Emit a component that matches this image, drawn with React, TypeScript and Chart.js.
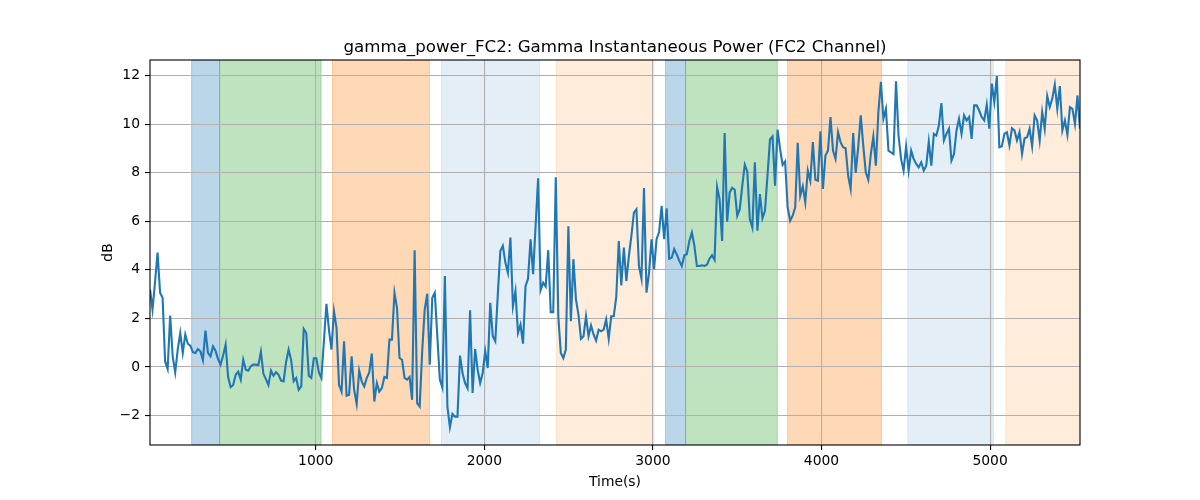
import React, { useEffect, useRef } from "react";
import { Chart, registerables } from "chart.js";

Chart.register(...registerables);

// ---- data ----
const TITLE = "gamma_power_FC2: Gamma Instantaneous Power (FC2 Channel)";
const X_LABEL = "Time(s)";
const Y_LABEL = "dB";

// uniform sampling grid of the power trace (seconds)
const SAMPLE_START = 17;
const SAMPLE_STEP = 14.95;

const gammaPowerDb = [
  3.2, 2.37, 3.5, 4.71, 3.06, 2.85, 0.23, -0.08, 2.12, 0.44,
  -0.22, 0.72, 1.4, 0.58, 1.34, 0.96, 0.88, 0.61, 0.58, 0.74,
  0.65, 0.28, 1.5, 0.58, 0.44, 0.85, 0.67, 0.33, 0.1, 0.47,
  0.92, -0.41, -0.83, -0.74, -0.32, -0.19, -0.52, 0.3, -0.11, -0.15,
  0.03, 0.1, 0.1, 0.08, 0.63, -0.28, -0.5, -0.74, -0.15, -0.36,
  -0.21, -0.32, -0.56, -0.59, 0.21, 0.72, 0.28, -0.59, -0.45, -0.94,
  -0.8, 1.57, 1.4, -0.36, -0.45, 0.36, 0.36, -0.22, -0.45, 1.06,
  2.6, 1.54, 0.72, 2.3, 1.61, -0.73,
  -1.01, 1.06, -1.18, -1.14, 0.44, -0.94, -1.52, -0.15, -0.59, -0.8,
  -0.45, -0.22, 0.55, -1.42, -0.66, -1.01, -0.87, -0.41, -0.45, 1.13,
  1.13, 3.06, 2.44, 0.37, 0.3, -0.45, -0.52, -0.41, -1.35, 4.81,
  -1.49, -1.63, 0.65, 2.37, 3.02, 0.1, 2.85, 3.06, 1.27, -0.52,
  -0.84, 3.75, -1.63, -2.48, -1.93, -2.04, -2.04, 0.47, -0.25, -0.66,
  -0.87, 2.34, -1.07, 0.74, -0.11, -0.66, -0.25, 0.65, -0.04, 2.64,
  1.27, 1.06, 2.99, 4.78, 4.99, 4.3, 3.88, 5.33, 2.51, 3.13,
  1.4,
  1.75, 0.96, 3.33, 3.64, 5.26, 3.82, 5.81, 7.77, 3.17, 3.47,
  3.31, 4.81, 2.26, 2.26, 7.81, 2.09, 0.58, 0.37, 0.72, 5.79,
  1.89, 4.44, 2.78, 2.16, 1.16, 1.27, 2.09, 1.27, 1.71, 1.34,
  1.09, 1.54, 1.47, 1.54, 1.96, 1.16, 2.09, 2.09, 2.89, 5.19,
  3.36, 4.92, 3.54, 4.57, 5.4, 6.36, 6.5, 4.16, 3.64, 7.37,
  3.06, 3.88, 5.26, 4.02, 5.26, 5.56, 6.64, 5.26, 6.53, 4.46,
  4.5, 4.85, 4.64, 4.37, 4.16, 4.6, 4.64, 5.19, 5.54, 4.99,
  4.16, 4.16,
  4.19, 4.16, 4.21, 4.46, 4.6, 4.41, 7.42, 6.91, 5.19, 9.63,
  5.98, 7.19, 7.38, 7.3, 6.23, 6.5, 7.47, 8.33, 8.04, 6.09,
  5.74, 8.43, 5.61, 7.12, 6.12, 6.43, 7.88, 9.37, 9.49, 7.47,
  9.77, 8.98, 8.32, 8.46, 6.57, 6.02, 6.23, 6.57, 9.23, 7.05,
  7.44, 6.78, 8.09, 7.67, 9.26, 7.71, 7.67, 9.7, 7.33, 8.71,
  8.91, 10.29, 8.91, 8.57, 9.67, 9.26, 9.05, 9.01, 7.88, 7.33,
  9.63, 7.99, 9.05, 10.36, 9.12, 8.02, 7.71, 8.77, 9.49, 8.29,
  10.5,
  11.74, 10.22, 10.63, 8.91, 8.84, 8.77, 11.76, 9.53, 8.57, 8.09,
  9.09, 8.09, 8.91, 8.57, 8.36, 8.22, 8.43, 8.09, 8.29, 9.28,
  8.29, 9.6, 9.53, 9.94, 10.87, 9.33, 9.6, 9.81, 8.5, 8.77,
  9.74, 10.22, 9.6, 10.36, 10.15, 10.29, 9.39, 10.77, 10.77, 10.56,
  10.29, 10.15, 10.8, 9.81, 11.67, 10.91, 11.98, 9.05, 9.09, 9.6,
  9.67, 9.12, 9.83, 9.74, 9.33, 9.67, 8.77, 9.42, 9.46, 9.81,
  9.09, 10.36, 10.15, 9.33, 10.5, 9.81, 11.16, 10.7, 11.05, 11.63,
  10.63, 11.57, 9.74, 10.15, 9.56, 10.7, 10.63, 10.01, 11.18, 9.81,
];

const X_TICKS = [1000, 2000, 3000, 4000, 5000];
const Y_TICKS = [-2, 0, 2, 4, 6, 8, 10, 12];
const Y_MIN = -3.21;
const Y_MAX = 12.64;

// shaded epochs (seconds)
const BAND_STARTS = [264, 430, 1099, 1746, 2427, 3075, 3194, 3798, 4512, 5093];
const BAND_ENDS = [430, 1032, 1675, 2328, 3006, 3194, 3738, 4356, 5020, 5560];
const BAND_COLORS = [
  "rgba(31,119,180,0.3)",
  "rgba(44,160,44,0.3)",
  "rgba(255,127,14,0.3)",
  "rgba(31,119,180,0.12)",
  "rgba(255,127,14,0.15)",
  "rgba(31,119,180,0.3)",
  "rgba(44,160,44,0.3)",
  "rgba(255,127,14,0.3)",
  "rgba(31,119,180,0.12)",
  "rgba(255,127,14,0.15)",
];

const FONT = "'DejaVu Sans', sans-serif";

export default function App() {
  const canvasRef = useRef<HTMLCanvasElement | null>(null);

  useEffect(() => {
    const canvas = canvasRef.current;
    if (!canvas) return;

    const times = gammaPowerDb.map((_, i) => SAMPLE_START + i * SAMPLE_STEP);
    const points = gammaPowerDb.map((v, i) => ({ x: times[i], y: v }));
    const xMin = times[0];
    const xMax = times[times.length - 1];

    const fmt = (v: number) => (v < 0 ? "\u2212" + Math.abs(v) : String(v));

    const bandsPlugin = {
      id: "bands",
      beforeDraw(chart: any) {
        const { ctx, chartArea } = chart;
        const xs = chart.scales.x;
        ctx.save();
        ctx.beginPath();
        ctx.rect(chartArea.left, chartArea.top, chartArea.right - chartArea.left, chartArea.bottom - chartArea.top);
        ctx.clip();
        for (let i = 0; i < BAND_STARTS.length; i++) {
          const x0 = xs.getPixelForValue(BAND_STARTS[i]);
          const x1 = xs.getPixelForValue(BAND_ENDS[i]);
          ctx.fillStyle = BAND_COLORS[i];
          ctx.fillRect(x0, chartArea.top, x1 - x0, chartArea.bottom - chartArea.top);
          ctx.strokeStyle = BAND_COLORS[i];
          ctx.lineWidth = 1;
          ctx.strokeRect(x0, chartArea.top, x1 - x0, chartArea.bottom - chartArea.top);
        }
        ctx.restore();
      },
      afterDraw(chart: any) {
        const { ctx, chartArea } = chart;
        ctx.save();
        ctx.strokeStyle = "#000";
        ctx.lineWidth = 1.1;
        ctx.strokeRect(chartArea.left, chartArea.top, chartArea.right - chartArea.left, chartArea.bottom - chartArea.top);
        ctx.fillStyle = "#000";
        const cx = (chartArea.left + chartArea.right) / 2;
        ctx.font = `16.67px ${FONT}`;
        ctx.textAlign = "center";
        ctx.textBaseline = "alphabetic";
        ctx.fillText(TITLE, cx, chartArea.top - 8.5);
        ctx.font = `13.89px ${FONT}`;
        ctx.fillText(X_LABEL, cx, 486);
        ctx.translate(112, (chartArea.top + chartArea.bottom) / 2);
        ctx.rotate(-Math.PI / 2);
        ctx.fillText(Y_LABEL, 0, 0);
        ctx.restore();
      },
    };

    const chart = new Chart(canvas, {
      type: "line",
      data: {
        datasets: [
          {
            data: points,
            borderColor: "#1f77b4",
            borderWidth: 2.1,
            pointRadius: 0,
            tension: 0,
            fill: false,
          },
        ],
      },
      options: {
        responsive: false,
        animation: false,
        devicePixelRatio: 1,
        layout: { padding: { left: 0, right: 120, top: 60, bottom: 0 } },
        plugins: {
          legend: { display: false },
          tooltip: { enabled: false },
          title: { display: false },
        },
        scales: {
          x: {
            type: "linear",
            min: xMin,
            max: xMax,
            afterBuildTicks: (s: any) => {
              s.ticks = X_TICKS.map((v) => ({ value: v }));
            },
            afterFit: (s: any) => {
              s.height = 55;
            },
            grid: { color: "#b0b0b0", lineWidth: 1.1, tickColor: "#000", tickLength: 5, drawTicks: true },
            border: { display: false },
            ticks: {
              color: "#000",
              font: { family: FONT, size: 13.89 },
              padding: 3,
              maxRotation: 0,
              autoSkip: false,
              callback: (v: any) => fmt(Number(v)),
            },
          },
          y: {
            type: "linear",
            min: Y_MIN,
            max: Y_MAX,
            afterBuildTicks: (s: any) => {
              s.ticks = Y_TICKS.map((v) => ({ value: v }));
            },
            afterFit: (s: any) => {
              s.width = 150;
            },
            grid: { color: "#b0b0b0", lineWidth: 1.1, tickColor: "#000", tickLength: 5, drawTicks: true },
            border: { display: false },
            ticks: {
              color: "#000",
              font: { family: FONT, size: 13.89 },
              padding: 5,
              autoSkip: false,
              callback: (v: any) => fmt(Number(v)),
            },
          },
        },
      },
      plugins: [bandsPlugin],
    } as any);

    return () => {
      chart.destroy();
    };
  }, []);

  return (
    <div style={{ position: "absolute", left: 0, top: 0, width: 1200, height: 500, background: "#fff" }}>
      <canvas ref={canvasRef} width={1200} height={500} style={{ width: 1200, height: 500, display: "block" }} />
    </div>
  );
}
